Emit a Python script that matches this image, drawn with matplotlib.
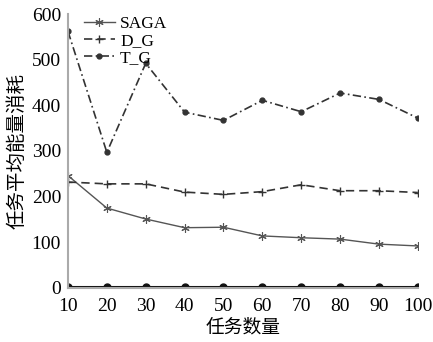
import matplotlib
matplotlib.use("Agg")
import matplotlib.pyplot as plt

tasks = [10, 20, 30, 40, 50, 60, 70, 80, 90, 100]
saga = [246, 175, 151, 132, 133, 114, 110, 107, 96, 92]
d_g = [232, 228, 228, 210, 205, 211, 226, 213, 213, 209]
t_g = [562, 297, 492, 385, 367, 411, 386, 427, 413, 372]
other = [3, 3, 3, 3, 3, 3, 3, 3, 3, 3]

xticks = [10, 20, 30, 40, 50, 60, 70, 80, 90, 100]
yticks = [0, 100, 200, 300, 400, 500, 600]

num_font = "Liberation Serif"
cjk_font = ["Noto Sans CJK SC", "DejaVu Sans"]

fig = plt.figure(figsize=(4.33, 3.42), dpi=100)
ax = fig.add_axes([0.157, 0.158, 0.808, 0.801])

ax.plot(tasks, saga, color="#555555", lw=1.0, ls="-", marker=(6, 2, 0), ms=6, mew=0.8, label="SAGA")
ax.plot(tasks, d_g, color="#333333", lw=1.2, ls=(0, (5, 3)), marker="+", ms=6, mew=1.0, label="D_G")
ax.plot(tasks, t_g, color="#333333", lw=1.2, ls=(0, (5, 2, 1, 2)), marker="o", ms=3.5, label="T_G")
ax.plot(tasks, other, color="#111111", lw=2.2, ls="-", marker="o", ms=5)

ax.set_xlim(10, 100)
ax.set_ylim(0, 600)
ax.set_xticks(xticks)
ax.set_yticks(yticks)
ax.tick_params(axis="x", length=0, pad=7)
ax.tick_params(axis="y", length=0, pad=5)
ax.set_xticklabels([str(v) for v in xticks], fontfamily=num_font, fontsize=14)
ax.set_yticklabels([str(v) for v in yticks], fontfamily=num_font, fontsize=14)

for s in ["top", "right"]:
    ax.spines[s].set_visible(False)
for s in ["left", "bottom"]:
    ax.spines[s].set_color("#aaaaaa")
    ax.spines[s].set_linewidth(1.5)

ax.set_xlabel("任务数量", fontfamily=cjk_font, fontsize=13.5, labelpad=1)
ax.set_ylabel("任务平均能量消耗", fontfamily=cjk_font, fontsize=14, labelpad=3)

leg = ax.legend(loc="upper left", frameon=False, prop={"family": num_font, "size": 12.5},
                handlelength=1.8, handletextpad=0.3, labelspacing=0.05,
                borderaxespad=0.0, bbox_to_anchor=(0.025, 1.02))

fig.savefig("out.png", dpi=100)
